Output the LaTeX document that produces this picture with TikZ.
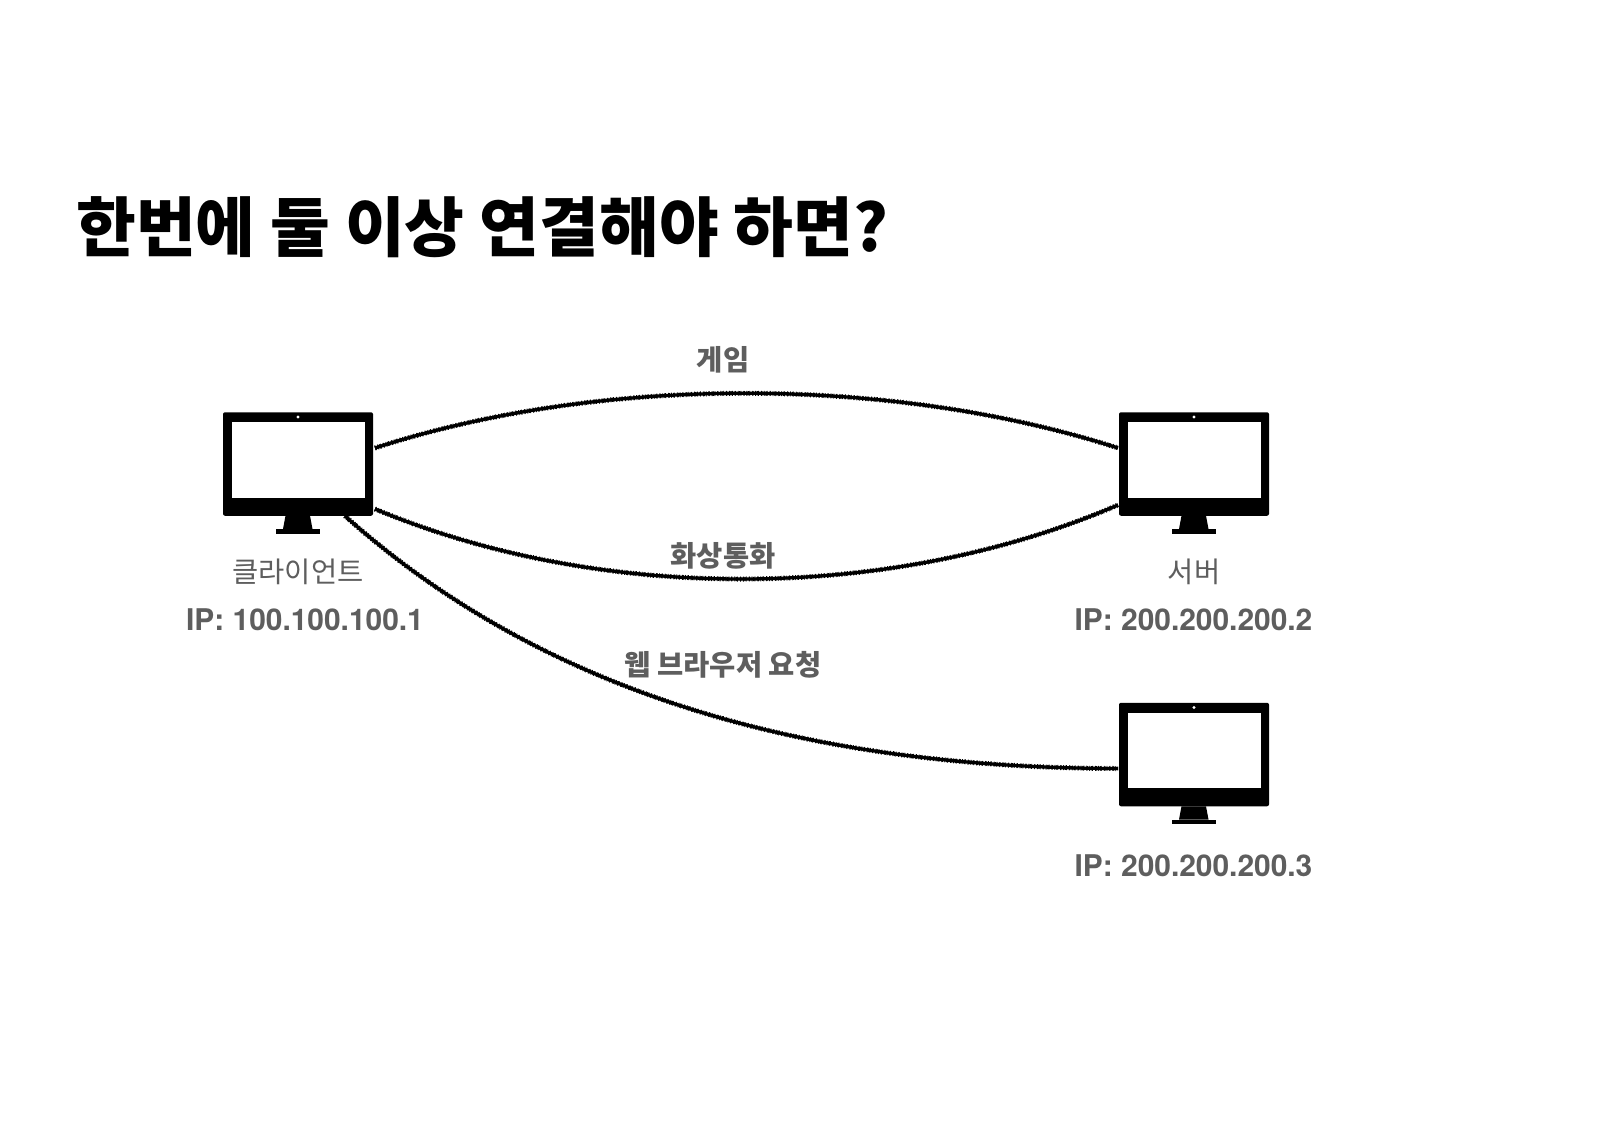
\documentclass[tikz,border=0pt]{standalone}
\usepackage{fontspec}
\newfontfamily\kr{Noto Sans CJK KR}
\newfontfamily\krh{Noto Sans CJK KR Black}
\newfontfamily\lat{TeX Gyre Heros}
\definecolor{tgray}{HTML}{5E5E5E}
\tikzset{
  x=1pt,y=-1pt,
  monbody/.style={fill=black,draw=none,rounded corners=2pt,minimum width=150pt,minimum height=103.5pt,inner sep=0pt,outer sep=0pt},
  monscreen/.style={fill=white,draw=none,minimum width=133pt,minimum height=75.5pt,inner sep=0pt},
  wire/.style={black,line width=3.3pt,line cap=butt,
    preaction={draw,line width=5pt,dash pattern=on 0.8pt off 2.1pt},
    preaction={draw,line width=4.3pt,dash pattern=on 1.3pt off 3.1pt}},
  lbl/.style={text=tgray,font=\kr\fontsize{28.5}{32}\selectfont,inner sep=0pt},
  lblb/.style={text=tgray,font=\kr\bfseries\fontsize{28.5}{32}\selectfont,inner sep=0pt},
  iplbl/.style={text=tgray,font=\lat\bfseries\fontsize{29.9}{33}\selectfont,inner sep=0pt},
  monitor/.pic={
    \fill (-12.5,51.75) -- (12,51.75) -- (14.5,65) -- (-15,65) -- cycle;
    \fill (-21.7,65) rectangle (21.7,69.5);
  }
}
\begin{document}
\begin{tikzpicture}
\useasboundingbox (0,0) rectangle (1598,1126);
\fill[white] (0,0) rectangle (1598,1126);
\node[anchor=west,inner sep=0pt,font=\krh\fontsize{65}{72}\selectfont] (title) at (76,227) {한번에 둘 이상 연결해야 하면?};

\node[monbody] (client) at (298,464) {};
\node[monscreen] (clientS) at (298,460.2) {};
\fill[white] (298,417) circle (1.6);
\pic at (298,464) {monitor};
\node[monbody] (srvA) at (1194,464) {};
\node[monscreen] (srvAS) at (1194,460.2) {};
\fill[white] (1194,417) circle (1.6);
\pic at (1194,464) {monitor};
\node[monbody] (srvB) at (1194,754.5) {};
\node[monscreen] (srvBS) at (1194,750.7) {};
\fill[white] (1194,707.5) circle (1.6);
\pic at (1194,754.5) {monitor};

\coordinate (c1) at ([shift={(2,-16)}]client.east);
\coordinate (c2) at ([shift={(2,45)}]client.east);
\coordinate (c3) at ([shift={(-28,52)}]client.east);
\coordinate (a1) at ([shift={(-1,-16)}]srvA.west);
\coordinate (a2) at ([shift={(-1,41)}]srvA.west);
\coordinate (b1) at ([shift={(-1,14)}]srvB.west);

\draw[wire] (c1) .. controls (600,375) and (890,375) .. (a1);
\draw[wire] (c2) .. controls (600,603) and (890,603) .. (a2);
\draw[wire] (c3) .. controls (540,690) and (800,768) .. (b1);

\node[lblb] (l1) at (723,360) {게임};
\node[lblb] (l2) at (723,556) {화상통화};
\node[lblb] (l3) at (723,665) {웹 브라우저 요청};
\node[lbl] (n1) at (298,572) {클라이언트};
\node[lbl] (n2) at (1194,572) {서버};
\node[iplbl] (ip1) at (305,620) {IP: 100.100.100.1};
\node[iplbl] (ip2) at (1193.5,620) {IP: 200.200.200.2};
\node[iplbl] (ip3) at (1193.5,866) {IP: 200.200.200.3};
\end{tikzpicture}
\end{document}
